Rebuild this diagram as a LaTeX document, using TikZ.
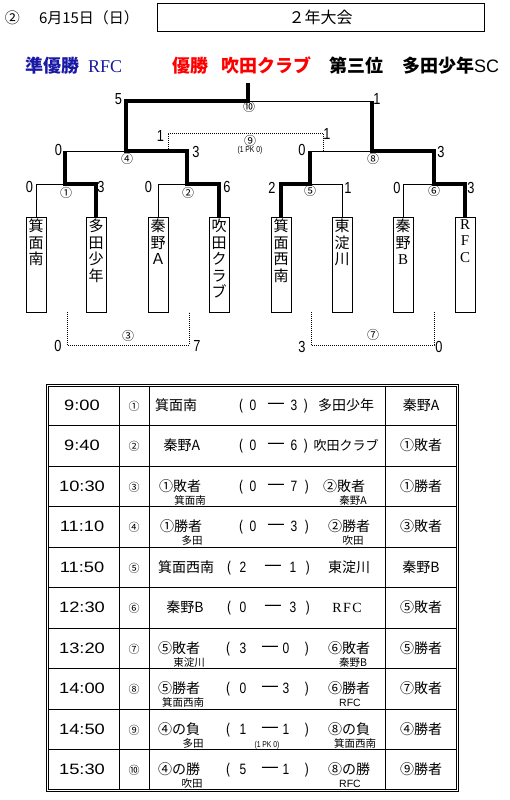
\documentclass[tikz,border=0pt]{standalone}
\usepackage{fontspec}
\newfontfamily\jp{Noto Sans CJK JP}
\newfontfamily\nar[FakeStretch=0.8]{Liberation Sans}
\newfontfamily\tim[FakeStretch=1.22]{Liberation Sans}
\newfontfamily\ser{Liberation Serif}
\newfontfamily\ars{Liberation Sans}
\definecolor{hblue}{RGB}{25,25,165}
\newcommand\tblSuita{{\fontsize{13}{13}\selectfont 吹田クラブ}}
\newcommand\tblRFC{{\ser R\kern1.5pt F\kern1.5pt C}}
\newcommand\tblRFCs{{\ars RFC}}
\begin{document}
\begin{tikzpicture}[x=1pt,y=-1pt,
  thinline/.style={line width=0.8pt},
  win/.style={line width=4pt},
  dotl/.style={line width=0.8pt, dash pattern=on 0.8pt off 1.2pt},
  teambox/.style={draw, line width=0.8pt, minimum width=20pt, minimum height=95pt, inner sep=0, anchor=north},
  vname/.style={anchor=north, inner sep=0, align=center, font=\jp\fontsize{15}{16.5}\selectfont},
  bnum/.style={inner sep=0, font=\nar\fontsize{16}{16}\selectfont},
  circ/.style={inner sep=0, font=\jp\fontsize{12}{12}\selectfont},
  hdr/.style={anchor=base west, inner sep=0, font=\jp\bfseries\fontsize{18}{18}\selectfont},
  celltxt/.style={anchor=base, inner sep=0, font=\jp\fontsize{14}{14}\selectfont},
  subtxt/.style={anchor=base, inner sep=0, font=\jp\fontsize{10.5}{10.5}\selectfont},
  timetxt/.style={anchor=base, inner sep=0, font=\tim\fontsize{15}{15}\selectfont},
  numtxt/.style={anchor=base, inner sep=0, font=\jp\fontsize{11}{11}\selectfont},
  tsc/.style={anchor=base, inner sep=0, font=\nar\fontsize{15}{15}\selectfont},
  dashtxt/.style={anchor=center, inner sep=0, font=\jp\fontsize{20}{20}\selectfont},
  pktxt/.style={inner sep=0, font=\nar\fontsize{8.5}{8.5}\selectfont}]
\useasboundingbox (0,0) rectangle (510,800);

% ---------- header ----------
\node[font=\jp\fontsize{15}{15}\selectfont, inner sep=0] (hcirc) at (12.5,17.5) {②};
\node[font=\jp\fontsize{15}{15}\selectfont, inner sep=0] (hdate) at (89,17.5) {6月15日（日）};
\node[draw, thinline, minimum width=327pt, minimum height=28pt, inner sep=0,
      font=\jp\fontsize{16}{16}\selectfont] (title) at (320.5,17) {２年大会};

\node[hdr, hblue] (ru) at (25,73) {準優勝};
\node[anchor=base west, inner sep=0, hblue, font=\ser\fontsize{18}{18}\selectfont] (rufc) at (88,73) {RFC};
\node[hdr, red] (win) at (172,73) {優勝};
\node[hdr, red] (winn) at (221,73) {吹田クラブ};
\node[hdr] (thd) at (329,73) {第三位};
\node[hdr] (thdn) at (402,73) {多田少年{\ars\mdseries SC}};

% ---------- team boxes ----------
\node[teambox] (t1) at (36,217) {};
\node[teambox] (t2) at (96,217) {};
\node[teambox] (t3) at (158,217) {};
\node[teambox] (t4) at (219,217) {};
\node[teambox] (t5) at (281,217) {};
\node[teambox] (t6) at (342,217) {};
\node[teambox] (t7) at (403,217) {};
\node[teambox] (t8) at (465,217) {};
\node[vname] (v1) at ([yshift=-2pt]t1.north) {箕\\面\\南};
\node[vname] (v2) at ([yshift=-2pt]t2.north) {多\\田\\少\\年};
\node[vname] (v3) at ([yshift=-2pt]t3.north) {秦\\野\\Ａ};
\node[vname] (v4) at ([yshift=-2pt]t4.north) {吹\\田\\ク\\ラ\\ブ};
\node[vname] (v5) at ([yshift=-2pt]t5.north) {箕\\面\\西\\南};
\node[vname] (v6) at ([yshift=-2pt]t6.north) {東\\淀\\川};
\node[vname] (v7) at ([yshift=-2pt]t7.north) {秦\\野\\{\ser B}};
\node[vname] (v8) at ([yshift=-2pt]t8.north) {{\ser R}\\{\ser F}\\{\ser C}};

% ---------- junctions ----------
\coordinate (m1) at (65,184);
\coordinate (m2) at (187,184);
\coordinate (m5) at (310,184);
\coordinate (m6) at (434,184);
\coordinate (m4) at (126,151);
\coordinate (m8) at (372,151);
\coordinate (m10) at (248,101);
\coordinate (top) at (248,83);

% thin lines
\draw[thinline] (t1.north) |- (m1);
\draw[thinline] (t3.north) |- (m2);
\draw[thinline] (t6.north) |- (m5);
\draw[thinline] (t7.north) |- (m6);
\draw[thinline] (m1) |- (m4);
\draw[thinline] (m5) |- (m8);
\draw[thinline] (m8) |- (m10);
% winners
\draw[win] (t2.north) |- (m1) -- (m1 |- m4);
\draw[win] (t4.north) |- (m2) |- (m4) |- (m10) -- (top);
\draw[win] (t5.north) |- (m5) -- (m5 |- m8);
\draw[win] (t8.north) |- (m6) |- (m8) -- (m8 |- m10);

% dotted matches
\coordinate (n9a) at (168,151);
\coordinate (n9b) at (323,151);
\draw[dotl] (n9a) -- ++(0,-18) -| (n9b);
\coordinate (n3a) at (67,312);
\coordinate (n3b) at (189,312);
\draw[dotl] (n3a) -- ++(0,33) -| (n3b);
\coordinate (n7a) at (311,312);
\coordinate (n7b) at (434,312);
\draw[dotl] (n7a) -- ++(0,33) -| (n7b);

% scores in bracket
\node[bnum] (r10l) at (118.5,99) {5};
\node[bnum] (r10r) at (377,99) {1};
\node[bnum] (r4l) at (58.5,150) {0};
\node[bnum] (r4r) at (196,152) {3};
\node[bnum] (r8l) at (302,150) {0};
\node[bnum] (r8r) at (441,152) {3};
\node[bnum] (r1l) at (29.5,187) {0};
\node[bnum] (r1r) at (101,187) {3};
\node[bnum] (r2l) at (148.5,187) {0};
\node[bnum] (r2r) at (227,187) {6};
\node[bnum] (r5l) at (272,188) {2};
\node[bnum] (r5r) at (348,188) {1};
\node[bnum] (r6l) at (397,188) {0};
\node[bnum] (r6r) at (471,188) {3};
\node[bnum] (r9l) at (160.5,136) {1};
\node[bnum] (r9r) at (327,134) {1};
\node[bnum] (r3l) at (58,346) {0};
\node[bnum] (r3r) at (197,346) {7};
\node[bnum] (r7l) at (302,347) {3};
\node[bnum] (r7r) at (439,347) {0};

% match numbers
\node[circ] (c10) at (249,107) {⑩};
\node[circ] (c9) at (250,140.5) {⑨};
\node[pktxt] (pk9) at (250,150) {(1 PK 0)};
\node[circ] (c4) at (127,159) {④};
\node[circ] (c8) at (373,159) {⑧};
\node[circ] (c1) at (66,192.5) {①};
\node[circ] (c2) at (188,192.5) {②};
\node[circ] (c5) at (310,191) {⑤};
\node[circ] (c6) at (434,191) {⑥};
\node[circ] (c3) at (128,336) {③};
\node[circ] (c7) at (373,335) {⑦};

% ---------- table ----------
\draw[thinline] (46,384) rectangle (458,791);
\draw[thinline] (48,386) rectangle (456,789);
\foreach \cx in {119,149,385} \draw[thinline] (\cx,386) -- (\cx,789);
\foreach \k in {1,...,9} \draw[thinline] (48,{385+40.5*\k}) -- (456,{385+40.5*\k});

\foreach \i/\tmv/\nmv/\nxv [evaluate=\i as \yb using {385+40.5*\i-15.25}] in
  {1/9:00/①/秦野A, 2/9:40/②/①敗者, 3/10:30/③/①勝者, 4/11:10/④/③敗者,
   5/11:50/⑤/秦野B, 6/12:30/⑥/⑤敗者, 7/13:20/⑦/⑤勝者, 8/14:00/⑧/⑦敗者,
   9/14:50/⑨/④勝者, 10/15:30/⑩/⑨勝者}
{
  \node[timetxt] (tm\i) at (82,\yb) {\tmv};
  \node[numtxt] (nm\i) at (134,\yb) {\nmv};
  \node[celltxt] (nx\i) at (421,\yb) {\nxv};
}

\foreach \i/\lv/\lx/\rv/\rx [evaluate=\i as \yb using {385+40.5*\i-15.25}] in
  {1/箕面南/176/多田少年/346, 2/秦野A/182/\tblSuita/346, 3/①敗者/180/②敗者/344,
   4/①勝者/181/②勝者/349, 5/箕面西南/186/東淀川/349, 6/秦野B/185/\tblRFC/347,
   7/⑤敗者/179/⑥敗者/349, 8/⑤勝者/179/⑥勝者/349, 9/④の負/179/⑧の負/349,
   10/④の勝/179/⑧の勝/349}
{
  \node[celltxt] (lt\i) at (\lx,\yb) {\lv};
  \node[celltxt] (rt\i) at (\rx,\yb) {\rv};
}

\foreach \i/\sA/\sB/\px/\ax/\dx/\bx/\qx [evaluate=\i as \yb using {385+40.5*\i-15.25}] in
  {1/0/3/241/253/276/294/306, 2/0/6/241/253/276/294/306, 3/0/7/241/253/276/294/307,
   4/0/3/241/253/276/294/307, 5/2/1/229/243/273/293/308, 6/0/3/229/243/273/293/308,
   7/3/0/228/243/270/286/307, 8/0/3/228/243/270/286/307, 9/1/1/228/243/270/286/307,
   10/5/1/228/243/270/286/307}
{
  \node[celltxt] (po\i) at (\px,\yb) {(};
  \node[tsc] (sa\i) at (\ax,\yb) {\sA};
  \node[dashtxt] (dh\i) at (\dx,\yb-4) {—};
  \node[tsc] (sb\i) at (\bx,\yb) {\sB};
  \node[celltxt] (pc\i) at (\qx,\yb) {)};
}

% sub labels
\node[subtxt] (sl3) at (190,504) {箕面南};
\node[subtxt] (sr3) at (353,504) {秦野A};
\node[subtxt] (sl4) at (192,544.5) {多田};
\node[subtxt] (sr4) at (353,544.5) {吹田};
\node[subtxt] (sl7) at (189,666) {東淀川};
\node[subtxt] (sr7) at (353,666) {秦野B};
\node[subtxt] (sl8) at (183,706.5) {箕面西南};
\node[subtxt] (sr8) at (350,706.5) {\tblRFCs};
\node[subtxt] (sl9) at (193,747) {多田};
\node[subtxt] (sr9) at (355,747) {箕面西南};
\node[subtxt] (sl10) at (192,787.5) {吹田};
\node[subtxt] (sr10) at (350,787.5) {\tblRFCs};
\node[pktxt] (pkt) at (267,745) {(1 PK 0)};
\end{tikzpicture}
\end{document}
